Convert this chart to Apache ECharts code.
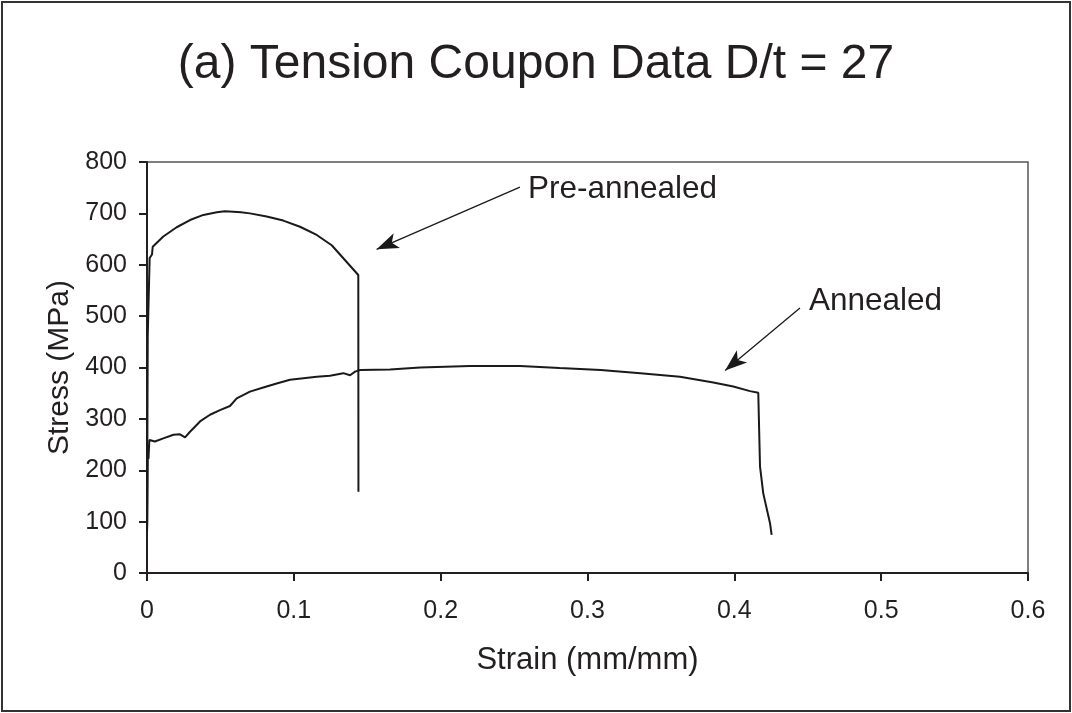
<!DOCTYPE html>
<html>
<head>
<meta charset="utf-8">
<script src="https://cdn.jsdelivr.net/npm/echarts@6/dist/echarts.min.js"></script>
<style>
html,body{margin:0;padding:0;background:#fff;}
#chart{width:1072px;height:713px;}
</style>
</head>
<body>
<div id="chart"></div>
<script>
// ---- data ----
const preAnnealedStrain = [0, 0.0003, 0.0005, 0.0017, 0.0018, 0.0034, 0.0039, 0.0111, 0.0202, 0.0293, 0.0384, 0.0475, 0.0530, 0.0588, 0.0640, 0.0701, 0.0815, 0.0928, 0.1042, 0.1156, 0.1258, 0.1439, 0.1440];
const preAnnealedStress = [80, 300, 460, 462, 613, 620, 635, 655, 673, 687, 697, 702, 704, 703, 702, 700, 694, 686, 674, 658, 638, 580, 158];

const annealedStrain = [0, 0.0002, 0.0005, 0.0008, 0.0010, 0.0013, 0.0016, 0.0054, 0.0111, 0.0180, 0.0225, 0.0259, 0.0293, 0.0361, 0.0429, 0.0497, 0.0565, 0.0611, 0.0701, 0.0792, 0.0883, 0.0974, 0.1065, 0.1156, 0.1246, 0.1337, 0.1383, 0.1417, 0.1451, 0.1655, 0.186, 0.220, 0.254, 0.281, 0.309, 0.336, 0.363, 0.3857, 0.3993, 0.4107, 0.4163, 0.4175, 0.4197, 0.4243, 0.4254];
const annealedStress = [80, 100, 228, 250, 222, 240, 259, 256, 262, 269, 270, 264, 275, 295, 308, 317, 325, 340, 353, 361, 369, 376, 379, 382, 384, 389, 385, 392, 395, 396, 400, 403, 403, 399, 395, 389, 382, 371, 363, 354, 351, 207, 155, 97, 74];

// annotation arrows: [start strain, start stress, tip strain, tip stress]
const preArrow = [0.254, 751, 0.1564, 630];
const annArrow = [0.4447, 516, 0.3937, 394];

const titleText = '(a) Tension Coupon Data D/t = 27';
const xName = 'Strain (mm/mm)';
const yName = 'Stress (MPa)';
const preLabel = 'Pre-annealed';
const annLabel = 'Annealed';

const xMin = 0, xMax = 0.6, xStep = 0.1;
const yMin = 0, yMax = 800, yStep = 100;

// ---- build chart ----
const zip = (a, b) => a.map((v, i) => [v, b[i]]);
const FONT = "'Liberation Sans', Arial, Helvetica, sans-serif";
const INK = '#231f20';

const chart = echarts.init(document.getElementById('chart'), null, {renderer: 'canvas'});

function arrowLine(a) {
  return [[
    {coord: [a[0], a[1]], symbol: 'none'},
    {coord: [a[2], a[3]], symbol: 'arrow'}
  ]];
}

chart.setOption({
  animation: false,
  backgroundColor: '#ffffff',
  title: {
    text: titleText,
    left: 'center',
    top: 36,
    textStyle: {fontFamily: FONT, fontSize: 48, fontWeight: 'normal', color: INK}
  },
  grid: {
    left: 147, right: 44, top: 162, bottom: 140,
    show: true, borderColor: '#555', borderWidth: 1.5, backgroundColor: 'transparent'
  },
  xAxis: {
    type: 'value', min: xMin, max: xMax, interval: xStep,
    name: xName, nameLocation: 'middle', nameGap: 72,
    nameTextStyle: {fontFamily: FONT, fontSize: 31, color: INK},
    axisLine: {show: true, onZero: false, lineStyle: {color: INK, width: 2}},
    axisTick: {show: true, inside: false, length: 8, lineStyle: {color: INK, width: 2}},
    axisLabel: {fontFamily: FONT, fontSize: 25, color: INK, margin: 26,
      formatter: v => String(Math.round(v * 10) / 10)},
    splitLine: {show: false}
  },
  yAxis: {
    type: 'value', min: yMin, max: yMax, interval: yStep,
    name: yName, nameLocation: 'middle', nameGap: 66,
    nameTextStyle: {fontFamily: FONT, fontSize: 30, color: INK},
    axisLine: {show: true, onZero: false, lineStyle: {color: INK, width: 2}},
    axisTick: {show: true, inside: false, length: 8, lineStyle: {color: INK, width: 2}},
    axisLabel: {fontFamily: FONT, fontSize: 25, color: INK, margin: 20},
    splitLine: {show: false}
  },
  series: [
    {
      name: preLabel, type: 'line', data: zip(preAnnealedStrain, preAnnealedStress),
      showSymbol: false, symbol: 'none',
      lineStyle: {color: '#1a1a1a', width: 2},
      markLine: {
        silent: true, symbolSize: [12, 22],
        lineStyle: {color: '#1a1a1a', width: 1.3, type: 'solid'},
        label: {show: false},
        data: arrowLine(preArrow)
      }
    },
    {
      name: annLabel, type: 'line', data: zip(annealedStrain, annealedStress),
      showSymbol: false, symbol: 'none',
      lineStyle: {color: '#1a1a1a', width: 2},
      markLine: {
        silent: true, symbolSize: [12, 22],
        lineStyle: {color: '#1a1a1a', width: 1.3, type: 'solid'},
        label: {show: false},
        data: arrowLine(annArrow)
      }
    }
  ],
  graphic: [
    {
      type: 'rect', silent: true,
      shape: {x: 2, y: 2, width: 1068, height: 709},
      style: {fill: 'none', stroke: '#333', lineWidth: 2}
    },
    {
      type: 'text', silent: true, left: 528, top: 173,
      style: {text: preLabel, fontFamily: FONT, fontSize: 31.5, fill: INK}
    },
    {
      type: 'text', silent: true, left: 809, top: 285,
      style: {text: annLabel, fontFamily: FONT, fontSize: 31.5, fill: INK}
    }
  ]
});
</script>
</body>
</html>
